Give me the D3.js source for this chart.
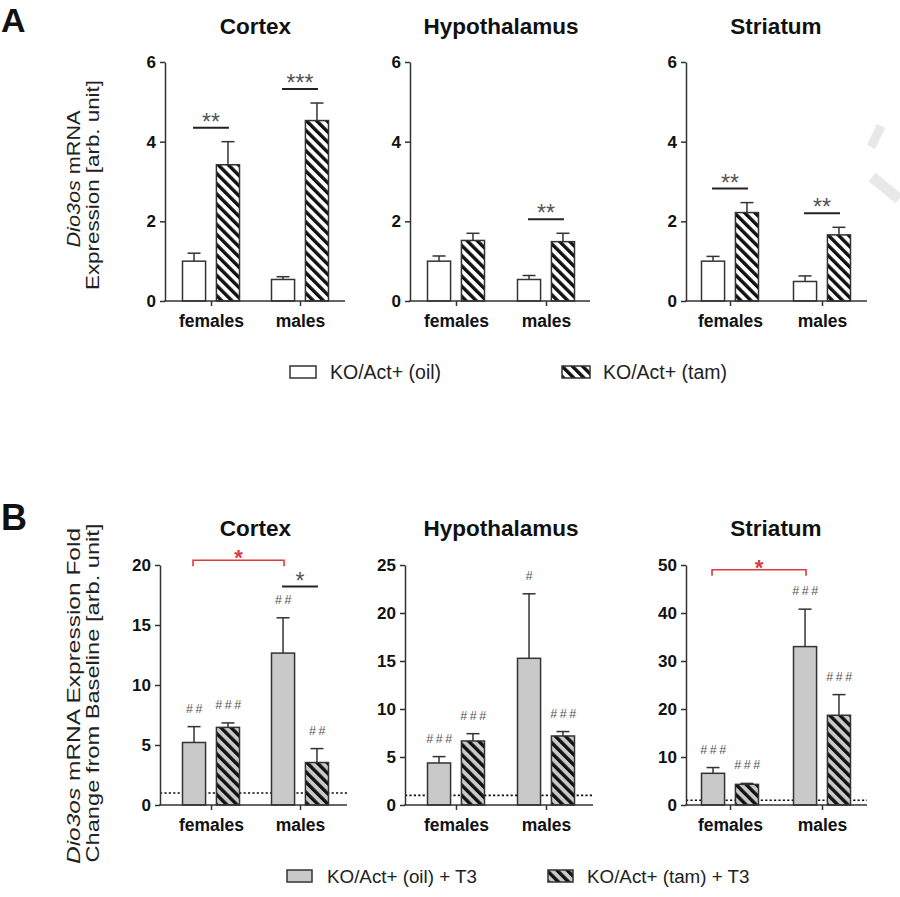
<!DOCTYPE html>
<html><head><meta charset="utf-8">
<script src="https://cdn.jsdelivr.net/npm/d3@7"></script>
<style>body{margin:0;background:#fff}svg{display:block}</style>
</head><body><svg id="chart" width="900" height="897"></svg>
<script>
// ---------------- DATA ----------------
const regions = ["Cortex", "Hypothalamus", "Striatum"];
const groups = ["females", "males"];
const seriesA = ["KO/Act+ (oil)", "KO/Act+ (tam)"];
const seriesB = ["KO/Act+ (oil) + T3", "KO/Act+ (tam) + T3"];

// Panel A: Dio3os mRNA expression (rows = regions, cols = females, males)
const aOilMean = [[1.0, 0.54], [1.0, 0.54], [1.0, 0.49]];
const aOilSem  = [[0.2, 0.07], [0.13, 0.1], [0.12, 0.14]];
const aTamMean = [[3.42, 4.53], [1.52, 1.49], [2.22, 1.66]];
const aTamSem  = [[0.58, 0.44], [0.18, 0.21], [0.25, 0.19]];
const aSig     = [["**", "***"], ["", "**"], ["**", "**"]];
const aTicks   = [0, 2, 4, 6];

// Panel B: fold change from baseline after T3
const bOilMean = [[5.21, 12.66], [4.38, 15.28], [6.6, 33.0]];
const bOilSem  = [[1.32, 2.94], [0.66, 6.72], [1.2, 7.8]];
const bTamMean = [[6.47, 3.54], [6.67, 7.19], [4.3, 18.7]];
const bTamSem  = [[0.37, 1.16], [0.76, 0.46], [0.2, 4.3]];
const bOilHash = [["##", "##"], ["###", "#"], ["###", "###"]];
const bTamHash = [["###", "##"], ["###", "###"], ["###", "###"]];
const bPairSig = [["", "*"], ["", ""], ["", ""]];
const bPairLevel = [[0, 18.2], [0, 0], [0, 0]];
const bSexSig = ["*", "", "*"];          // oil females vs oil males (red bracket)
const bSexLevel = [20.4, 0, 49];
const bMax = [20, 25, 50];
const bTicks = [[0, 5, 10, 15, 20], [0, 5, 10, 15, 20, 25], [0, 10, 20, 30, 40, 50]];
const baselineValue = 1;

// ---------------- LAYOUT ----------------
const FONT = '"Liberation Sans", Arial, Helvetica, sans-serif';
const STROKE = "#333";
const GRAY = "#c9c9c9";
const RED = "#e0393b";
const groupCenters = [[211, 300], [456, 546], [730, 822]];
const rowA = { left: [165, 410, 686], right: [345, 590, 867], yRange: [301, 62], titleY: 34 };
const rowB = { left: [160, 405, 686], right: [347, 593, 867], yRange: [805, 565], titleY: 536 };

const svg = d3.select("#chart");
const defs = svg.append("defs");
function hatch(id, bg) {
  const p = defs.append("pattern").attr("id", id)
    .attr("patternUnits", "userSpaceOnUse").attr("width", 7.2).attr("height", 7.2)
    .attr("patternTransform", "rotate(-45)");
  p.append("rect").attr("width", 7.2).attr("height", 7.2).attr("fill", bg);
  p.append("rect").attr("width", 3.4).attr("height", 7.2).attr("fill", "#111");
}
hatch("hatchW", "#fff");
hatch("hatchG", GRAY);

// watermark fragment at right edge
svg.append("line").attr("x1", 881).attr("y1", 126).attr("x2", 871).attr("y2", 147)
  .attr("stroke", "#e8e8e8").attr("stroke-width", 9);
svg.append("line").attr("x1", 872).attr("y1", 177).attr("x2", 899).attr("y2", 199)
  .attr("stroke", "#e8e8e8").attr("stroke-width", 11);

function drawPanel(p) {
  const g = svg.append("g");
  const x = d3.scalePoint().domain(groups).range(p.centers);
  const xs = d3.scaleBand().domain(p.series).range([-28.5, 28.5]).paddingInner(0.32);
  const y = d3.scaleLinear().domain(p.yDomain).range(p.yRange);

  if (p.dotted) {
    g.append("line").attr("x1", p.left).attr("x2", p.right)
      .attr("y1", y(baselineValue)).attr("y2", y(baselineValue))
      .attr("stroke", "#111").attr("stroke-width", 1.6).attr("stroke-dasharray", "2.2,2.2");
  }

  const data = [];
  groups.forEach((grp, i) => {
    data.push({ grp, s: p.series[0], mean: p.oil[i], sem: p.oilSem[i], fill: p.fills[0], hash: p.oilHash ? p.oilHash[i] : "" });
    data.push({ grp, s: p.series[1], mean: p.tam[i], sem: p.tamSem[i], fill: p.fills[1], hash: p.tamHash ? p.tamHash[i] : "" });
  });
  const cx = d => x(d.grp) + xs(d.s) + xs.bandwidth() / 2;

  g.selectAll("rect.bar").data(data).join("rect").attr("class", "bar")
    .attr("x", d => x(d.grp) + xs(d.s)).attr("width", xs.bandwidth())
    .attr("y", d => y(d.mean)).attr("height", d => y(0) - y(d.mean))
    .attr("fill", d => d.fill).attr("stroke", STROKE).attr("stroke-width", 1.5);

  const eb = g.selectAll("g.err").data(data).join("g").attr("class", "err")
    .attr("stroke", STROKE).attr("stroke-width", 1.5);
  eb.append("line").attr("x1", cx).attr("x2", cx).attr("y1", d => y(d.mean)).attr("y2", d => y(d.mean + d.sem));
  eb.append("line").attr("x1", d => cx(d) - 6.5).attr("x2", d => cx(d) + 6.5)
    .attr("y1", d => y(d.mean + d.sem)).attr("y2", d => y(d.mean + d.sem));

  // hash annotations
  g.selectAll("text.hash").data(data.filter(d => d.hash)).join("text").attr("class", "hash")
    .attr("x", d => cx(d) + 1.5).attr("y", d => y(d.mean + d.sem) - 14)
    .attr("text-anchor", "middle").attr("font-family", FONT).attr("font-size", 12.5)
    .attr("letter-spacing", 2.6).attr("fill", "#555").text(d => d.hash);

  // pairwise significance (oil vs tam within sex)
  groups.forEach((grp, i) => {
    const s = p.pairSig[i];
    if (!s) return;
    const a = data[i * 2], b = data[i * 2 + 1];
    const ly = p.pairLevel && p.pairLevel[i] ? y(p.pairLevel[i]) : Math.min(y(a.mean + a.sem), y(b.mean + b.sem)) - 14;
    g.append("line").attr("x1", cx(a) - 1).attr("x2", cx(b) + 1).attr("y1", ly).attr("y2", ly)
      .attr("stroke", "#222").attr("stroke-width", 2);
    g.append("text").attr("x", (cx(a) + cx(b)) / 2).attr("y", ly + 2)
      .attr("text-anchor", "middle").attr("font-family", FONT).attr("font-size", 23)
      .attr("fill", "#555").text(s);
  });

  // red bracket between oil females and oil males
  if (p.sexSig) {
    const a = data[0], b = data[2];
    const by = y(p.sexLevel);
    g.append("path")
      .attr("d", `M${cx(a) - 1},${by + 6}V${by}H${cx(b) + 1}V${by + 6}`)
      .attr("fill", "none").attr("stroke", RED).attr("stroke-width", 1.6);
    g.append("text").attr("x", (cx(a) + cx(b)) / 2).attr("y", by + 5)
      .attr("text-anchor", "middle").attr("font-family", FONT).attr("font-size", 22)
      .attr("font-weight", "bold").attr("fill", RED).text(p.sexSig);
  }

  // y axis
  const yg = g.append("g").attr("transform", `translate(${p.left},0)`)
    .call(d3.axisLeft(y).tickValues(p.ticks).tickFormat(d3.format("d"))
      .tickSize(5).tickSizeOuter(0).tickPadding(4));
  yg.attr("font-family", FONT).attr("font-size", 17).attr("font-weight", "bold");
  yg.select(".domain").attr("stroke", STROKE).attr("stroke-width", 1.5);
  yg.selectAll(".tick line").attr("stroke", STROKE).attr("stroke-width", 1.5);
  yg.selectAll(".tick text").attr("fill", "#111");

  // x axis
  g.append("line").attr("x1", p.left - 0.75).attr("x2", p.right).attr("y1", y(0)).attr("y2", y(0))
    .attr("stroke", STROKE).attr("stroke-width", 1.5);
  const xg = g.append("g").attr("transform", `translate(0,${y(0)})`)
    .call(d3.axisBottom(x).tickSize(5).tickSizeOuter(0));
  xg.select(".domain").remove();
  xg.attr("font-family", FONT).attr("font-size", 17.5).attr("font-weight", "bold");
  xg.selectAll(".tick line").attr("stroke", STROKE).attr("stroke-width", 1.5);
  xg.selectAll(".tick text").attr("fill", "#111").attr("y", 26).attr("dy", 0);

  // title
  g.append("text").attr("x", (p.centers[0] + p.centers[1]) / 2).attr("y", p.titleY)
    .attr("text-anchor", "middle").attr("font-family", FONT).attr("font-size", 22.5)
    .attr("font-weight", "bold").attr("fill", "#111").text(p.title);
}

regions.forEach((r, k) => {
  drawPanel({
    title: r, centers: groupCenters[k], left: rowA.left[k], right: rowA.right[k],
    yDomain: [0, 6], yRange: rowA.yRange, ticks: aTicks, titleY: rowA.titleY,
    series: seriesA, oil: aOilMean[k], oilSem: aOilSem[k], tam: aTamMean[k], tamSem: aTamSem[k],
    fills: ["#fff", "url(#hatchW)"], pairSig: aSig[k], dotted: false
  });
  drawPanel({
    title: r, centers: groupCenters[k], left: rowB.left[k], right: rowB.right[k],
    yDomain: [0, bMax[k]], yRange: rowB.yRange, ticks: bTicks[k], titleY: rowB.titleY,
    series: seriesB, oil: bOilMean[k], oilSem: bOilSem[k], tam: bTamMean[k], tamSem: bTamSem[k],
    fills: [GRAY, "url(#hatchG)"], oilHash: bOilHash[k], tamHash: bTamHash[k],
    pairSig: bPairSig[k], pairLevel: bPairLevel[k],
    sexSig: bSexSig[k], sexLevel: bSexLevel[k], dotted: true
  });
});

// panel letters
svg.append("text").attr("x", 1).attr("y", 32).attr("font-family", FONT).attr("font-size", 34)
  .attr("font-weight", "bold").attr("fill", "#111").text("A");
svg.append("text").attr("x", 1).attr("y", 530).attr("font-family", FONT).attr("font-size", 36)
  .attr("font-weight", "bold").attr("fill", "#111").text("B");

// y-axis labels
function yLabel(lines, cy, xs, lens) {
  lines.forEach((parts, i) => {
    const t = svg.append("text").attr("transform", `translate(${xs[i]},${cy[i]}) rotate(-90)`)
      .attr("text-anchor", "middle").attr("font-family", FONT).attr("font-size", 17.5)
      .attr("fill", "#222").attr("textLength", lens[i]).attr("lengthAdjust", "spacingAndGlyphs");
    parts.forEach(pt => t.append("tspan").attr("font-style", pt.i ? "italic" : null).text(pt.t));
  });
}
yLabel([[{ t: "Dio3os", i: true }, { t: " mRNA" }], [{ t: "Expression [arb. unit]" }]],
  [179, 185], [80, 99], [137, 210]);
yLabel([[{ t: "Dio3os", i: true }, { t: " mRNA Expression Fold" }], [{ t: "Change from Baseline [arb. unit]" }]],
  [696, 693], [80, 99], [336, 339]);

// legends
function legend(y, fs, items) {
  items.forEach(it => {
    svg.append("rect").attr("x", it.x).attr("y", y - 6).attr("width", it.w).attr("height", 12)
      .attr("fill", it.fill).attr("stroke", STROKE).attr("stroke-width", 1.5);
    svg.append("text").attr("x", it.tx).attr("y", y).attr("dy", "0.35em")
      .attr("font-family", FONT).attr("font-size", fs).attr("fill", "#222").text(it.label);
  });
}
legend(372, 19.5, [
  { x: 290, w: 26, tx: 330, fill: "#fff", label: seriesA[0] },
  { x: 562, w: 28, tx: 603, fill: "url(#hatchW)", label: seriesA[1] }
]);
legend(876, 18.8, [
  { x: 287, w: 25, tx: 327, fill: GRAY, label: seriesB[0] },
  { x: 548, w: 25, tx: 587, fill: "url(#hatchG)", label: seriesB[1] }
]);
</script>
</body></html>
